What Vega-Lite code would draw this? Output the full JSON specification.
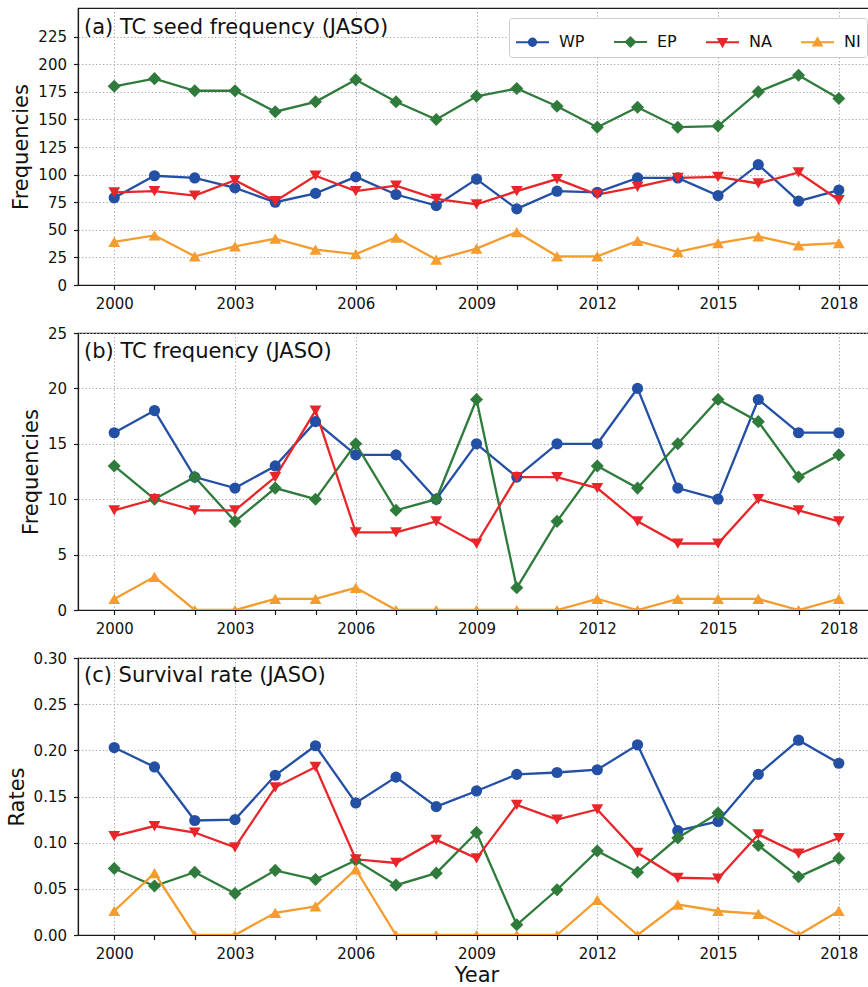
{
  "$schema": "https://vega.github.io/schema/vega-lite/v6.json",
  "padding": {"left": 5, "top": 7, "right": 0, "bottom": 0},
  "background": "white",
  "config": {
    "font": "DejaVu Sans",
    "view": {"stroke": "#1a1a1a", "strokeWidth": 1.2},
    "axis": {
      "domainColor": "#1a1a1a", "domainWidth": 1.2,
      "tickColor": "#1a1a1a", "tickWidth": 1.2, "tickSize": 4.5,
      "labelFont": "DejaVu Sans", "labelFontSize": 15, "labelColor": "#111", "labelPadding": 7,
      "titleFont": "DejaVu Sans", "titleFontSize": 21, "titleFontWeight": "normal", "titleColor": "#111", "titlePadding": 6,
      "gridColor": "#a8a8a8", "gridDash": [1.3, 2.2], "gridWidth": 1
    },
    "title": {"font": "DejaVu Sans", "fontSize": 21, "fontWeight": "normal", "color": "#111", "anchor": "start", "frame": "group", "baseline": "alphabetic", "dx": 6}
  },
  "datasets": {
    "seed": [
      {"year":2000,"basin":"WP","value":79},{"year":2001,"basin":"WP","value":99},{"year":2002,"basin":"WP","value":97},{"year":2003,"basin":"WP","value":88},{"year":2004,"basin":"WP","value":75},{"year":2005,"basin":"WP","value":83},{"year":2006,"basin":"WP","value":98},{"year":2007,"basin":"WP","value":82},{"year":2008,"basin":"WP","value":72},{"year":2009,"basin":"WP","value":96},{"year":2010,"basin":"WP","value":69},{"year":2011,"basin":"WP","value":85},{"year":2012,"basin":"WP","value":84},{"year":2013,"basin":"WP","value":97},{"year":2014,"basin":"WP","value":97},{"year":2015,"basin":"WP","value":81},{"year":2016,"basin":"WP","value":109},{"year":2017,"basin":"WP","value":76},{"year":2018,"basin":"WP","value":86},
      {"year":2000,"basin":"EP","value":180},{"year":2001,"basin":"EP","value":187},{"year":2002,"basin":"EP","value":176},{"year":2003,"basin":"EP","value":176},{"year":2004,"basin":"EP","value":157},{"year":2005,"basin":"EP","value":166},{"year":2006,"basin":"EP","value":186},{"year":2007,"basin":"EP","value":166},{"year":2008,"basin":"EP","value":150},{"year":2009,"basin":"EP","value":171},{"year":2010,"basin":"EP","value":178},{"year":2011,"basin":"EP","value":162},{"year":2012,"basin":"EP","value":143},{"year":2013,"basin":"EP","value":161},{"year":2014,"basin":"EP","value":143},{"year":2015,"basin":"EP","value":144},{"year":2016,"basin":"EP","value":175},{"year":2017,"basin":"EP","value":190},{"year":2018,"basin":"EP","value":169},
      {"year":2000,"basin":"NA","value":84},{"year":2001,"basin":"NA","value":85},{"year":2002,"basin":"NA","value":81},{"year":2003,"basin":"NA","value":95},{"year":2004,"basin":"NA","value":76},{"year":2005,"basin":"NA","value":99},{"year":2006,"basin":"NA","value":85},{"year":2007,"basin":"NA","value":90},{"year":2008,"basin":"NA","value":78},{"year":2009,"basin":"NA","value":73},{"year":2010,"basin":"NA","value":85},{"year":2011,"basin":"NA","value":96},{"year":2012,"basin":"NA","value":82},{"year":2013,"basin":"NA","value":89},{"year":2014,"basin":"NA","value":97},{"year":2015,"basin":"NA","value":98},{"year":2016,"basin":"NA","value":92},{"year":2017,"basin":"NA","value":102},{"year":2018,"basin":"NA","value":77},
      {"year":2000,"basin":"NI","value":39},{"year":2001,"basin":"NI","value":45},{"year":2002,"basin":"NI","value":26},{"year":2003,"basin":"NI","value":35},{"year":2004,"basin":"NI","value":42},{"year":2005,"basin":"NI","value":32},{"year":2006,"basin":"NI","value":28},{"year":2007,"basin":"NI","value":43},{"year":2008,"basin":"NI","value":23},{"year":2009,"basin":"NI","value":33},{"year":2010,"basin":"NI","value":48},{"year":2011,"basin":"NI","value":26},{"year":2012,"basin":"NI","value":26},{"year":2013,"basin":"NI","value":40},{"year":2014,"basin":"NI","value":30},{"year":2015,"basin":"NI","value":38},{"year":2016,"basin":"NI","value":44},{"year":2017,"basin":"NI","value":36},{"year":2018,"basin":"NI","value":38}
    ],
    "tc": [
      {"year":2000,"basin":"WP","value":16},{"year":2001,"basin":"WP","value":18},{"year":2002,"basin":"WP","value":12},{"year":2003,"basin":"WP","value":11},{"year":2004,"basin":"WP","value":13},{"year":2005,"basin":"WP","value":17},{"year":2006,"basin":"WP","value":14},{"year":2007,"basin":"WP","value":14},{"year":2008,"basin":"WP","value":10},{"year":2009,"basin":"WP","value":15},{"year":2010,"basin":"WP","value":12},{"year":2011,"basin":"WP","value":15},{"year":2012,"basin":"WP","value":15},{"year":2013,"basin":"WP","value":20},{"year":2014,"basin":"WP","value":11},{"year":2015,"basin":"WP","value":10},{"year":2016,"basin":"WP","value":19},{"year":2017,"basin":"WP","value":16},{"year":2018,"basin":"WP","value":16},
      {"year":2000,"basin":"EP","value":13},{"year":2001,"basin":"EP","value":10},{"year":2002,"basin":"EP","value":12},{"year":2003,"basin":"EP","value":8},{"year":2004,"basin":"EP","value":11},{"year":2005,"basin":"EP","value":10},{"year":2006,"basin":"EP","value":15},{"year":2007,"basin":"EP","value":9},{"year":2008,"basin":"EP","value":10},{"year":2009,"basin":"EP","value":19},{"year":2010,"basin":"EP","value":2},{"year":2011,"basin":"EP","value":8},{"year":2012,"basin":"EP","value":13},{"year":2013,"basin":"EP","value":11},{"year":2014,"basin":"EP","value":15},{"year":2015,"basin":"EP","value":19},{"year":2016,"basin":"EP","value":17},{"year":2017,"basin":"EP","value":12},{"year":2018,"basin":"EP","value":14},
      {"year":2000,"basin":"NA","value":9},{"year":2001,"basin":"NA","value":10},{"year":2002,"basin":"NA","value":9},{"year":2003,"basin":"NA","value":9},{"year":2004,"basin":"NA","value":12},{"year":2005,"basin":"NA","value":18},{"year":2006,"basin":"NA","value":7},{"year":2007,"basin":"NA","value":7},{"year":2008,"basin":"NA","value":8},{"year":2009,"basin":"NA","value":6},{"year":2010,"basin":"NA","value":12},{"year":2011,"basin":"NA","value":12},{"year":2012,"basin":"NA","value":11},{"year":2013,"basin":"NA","value":8},{"year":2014,"basin":"NA","value":6},{"year":2015,"basin":"NA","value":6},{"year":2016,"basin":"NA","value":10},{"year":2017,"basin":"NA","value":9},{"year":2018,"basin":"NA","value":8},
      {"year":2000,"basin":"NI","value":1},{"year":2001,"basin":"NI","value":3},{"year":2002,"basin":"NI","value":0},{"year":2003,"basin":"NI","value":0},{"year":2004,"basin":"NI","value":1},{"year":2005,"basin":"NI","value":1},{"year":2006,"basin":"NI","value":2},{"year":2007,"basin":"NI","value":0},{"year":2008,"basin":"NI","value":0},{"year":2009,"basin":"NI","value":0},{"year":2010,"basin":"NI","value":0},{"year":2011,"basin":"NI","value":0},{"year":2012,"basin":"NI","value":1},{"year":2013,"basin":"NI","value":0},{"year":2014,"basin":"NI","value":1},{"year":2015,"basin":"NI","value":1},{"year":2016,"basin":"NI","value":1},{"year":2017,"basin":"NI","value":0},{"year":2018,"basin":"NI","value":1}
    ],
    "rate": [
      {"year":2000,"basin":"WP","value":0.203},{"year":2001,"basin":"WP","value":0.182},{"year":2002,"basin":"WP","value":0.124},{"year":2003,"basin":"WP","value":0.125},{"year":2004,"basin":"WP","value":0.173},{"year":2005,"basin":"WP","value":0.205},{"year":2006,"basin":"WP","value":0.143},{"year":2007,"basin":"WP","value":0.171},{"year":2008,"basin":"WP","value":0.139},{"year":2009,"basin":"WP","value":0.156},{"year":2010,"basin":"WP","value":0.174},{"year":2011,"basin":"WP","value":0.176},{"year":2012,"basin":"WP","value":0.179},{"year":2013,"basin":"WP","value":0.206},{"year":2014,"basin":"WP","value":0.113},{"year":2015,"basin":"WP","value":0.123},{"year":2016,"basin":"WP","value":0.174},{"year":2017,"basin":"WP","value":0.211},{"year":2018,"basin":"WP","value":0.186},
      {"year":2000,"basin":"EP","value":0.072},{"year":2001,"basin":"EP","value":0.053},{"year":2002,"basin":"EP","value":0.068},{"year":2003,"basin":"EP","value":0.045},{"year":2004,"basin":"EP","value":0.070},{"year":2005,"basin":"EP","value":0.060},{"year":2006,"basin":"EP","value":0.081},{"year":2007,"basin":"EP","value":0.054},{"year":2008,"basin":"EP","value":0.067},{"year":2009,"basin":"EP","value":0.111},{"year":2010,"basin":"EP","value":0.011},{"year":2011,"basin":"EP","value":0.049},{"year":2012,"basin":"EP","value":0.091},{"year":2013,"basin":"EP","value":0.068},{"year":2014,"basin":"EP","value":0.105},{"year":2015,"basin":"EP","value":0.132},{"year":2016,"basin":"EP","value":0.097},{"year":2017,"basin":"EP","value":0.063},{"year":2018,"basin":"EP","value":0.083},
      {"year":2000,"basin":"NA","value":0.107},{"year":2001,"basin":"NA","value":0.118},{"year":2002,"basin":"NA","value":0.111},{"year":2003,"basin":"NA","value":0.095},{"year":2004,"basin":"NA","value":0.160},{"year":2005,"basin":"NA","value":0.182},{"year":2006,"basin":"NA","value":0.082},{"year":2007,"basin":"NA","value":0.078},{"year":2008,"basin":"NA","value":0.103},{"year":2009,"basin":"NA","value":0.083},{"year":2010,"basin":"NA","value":0.141},{"year":2011,"basin":"NA","value":0.125},{"year":2012,"basin":"NA","value":0.136},{"year":2013,"basin":"NA","value":0.089},{"year":2014,"basin":"NA","value":0.062},{"year":2015,"basin":"NA","value":0.061},{"year":2016,"basin":"NA","value":0.109},{"year":2017,"basin":"NA","value":0.088},{"year":2018,"basin":"NA","value":0.105},
      {"year":2000,"basin":"NI","value":0.026},{"year":2001,"basin":"NI","value":0.067},{"year":2002,"basin":"NI","value":0},{"year":2003,"basin":"NI","value":0},{"year":2004,"basin":"NI","value":0.024},{"year":2005,"basin":"NI","value":0.031},{"year":2006,"basin":"NI","value":0.071},{"year":2007,"basin":"NI","value":0},{"year":2008,"basin":"NI","value":0},{"year":2009,"basin":"NI","value":0},{"year":2010,"basin":"NI","value":0},{"year":2011,"basin":"NI","value":0},{"year":2012,"basin":"NI","value":0.038},{"year":2013,"basin":"NI","value":0},{"year":2014,"basin":"NI","value":0.033},{"year":2015,"basin":"NI","value":0.026},{"year":2016,"basin":"NI","value":0.023},{"year":2017,"basin":"NI","value":0},{"year":2018,"basin":"NI","value":0.026}
    ]
  },
  "spacing": 12,
  "resolve": {"scale": {"color": "independent"}},
  "vconcat": [
    {
      "width": 791, "height": 277,
      "title": {"text": "(a) TC seed frequency (JASO)", "offset": -29.5},
      "data": {"name": "seed"},
      "encoding": {
        "x": {"field": "year", "type": "quantitative", "scale": {"domain": [1999.1, 2018.75], "nice": false, "zero": false},
              "axis": {"values": [2000,2001,2002,2003,2004,2005,2006,2007,2008,2009,2010,2011,2012,2013,2014,2015,2016,2017,2018], "format": "d", "labelExpr": "(datum.value - 2000) % 3 === 0 ? datum.label : ''", "labelOverlap": false, "labelFlush": false, "title": null,
                       "gridOpacity": {"condition": {"test": "(datum.value - 2000) % 3 !== 0", "value": 0}, "value": 1}}},
        "y": {"field": "value", "type": "quantitative", "scale": {"domain": [0, 251], "nice": false},
              "axis": {"values": [0,25,50,75,100,125,150,175,200,225], "title": "Frequencies"}},
        "color": {"field": "basin", "type": "nominal", "scale": {"domain": ["WP","EP","NA","NI"], "range": ["#2350a5","#2e7b3c","#e8262a","#f49c2e"]},
                  "legend": {"title": null, "orient": "none", "legendX": 431, "legendY": 10, "direction": "horizontal", "columns": 4,
                             "labelFont": "DejaVu Sans", "labelFontSize": 16, "labelColor": "#111", "labelOffset": 9, "columnPadding": 25,
                             "symbolSize": 1089, "symbolStrokeWidth": 2,
                             "padding": 6, "fillColor": "white", "strokeColor": "#cccccc", "cornerRadius": 3,
                             "encode": {"symbols": {"update": {
                               "shape": {"signal": "datum.value === 'WP' ? 'M-1,0L1,0M-0.22,0A0.22,0.22,0,1,0,0.22,0A0.22,0.22,0,1,0,-0.22,0Z' : datum.value === 'EP' ? 'M-1,0L1,0M-0.28,0L0,-0.28L0.28,0L0,0.28Z' : datum.value === 'NA' ? 'M-1,0L1,0M-0.25,-0.2L0.25,-0.2L0,0.24Z' : 'M-1,0L1,0M-0.25,0.2L0.25,0.2L0,-0.24Z'"},
                               "fill": {"signal": "datum.value === 'WP' ? '#2350a5' : datum.value === 'EP' ? '#2e7b3c' : datum.value === 'NA' ? '#e8262a' : '#f49c2e'"},
                               "stroke": {"signal": "datum.value === 'WP' ? '#2350a5' : datum.value === 'EP' ? '#2e7b3c' : datum.value === 'NA' ? '#e8262a' : '#f49c2e'"},
                               "size": {"value": 1089},
                               "strokeWidth": {"value": 2}, "opacity": {"value": 1}, "fillOpacity": {"value": 1}, "strokeOpacity": {"value": 1}}}}}}
      },
      "layer": [
        {"mark": {"type": "line", "strokeWidth": 2.3, "clip": true}},
        {"transform": [{"filter": "datum.basin === 'WP'"}], "mark": {"type": "point", "shape": "circle", "size": 125, "filled": true, "opacity": 1, "clip": true}},
        {"transform": [{"filter": "datum.basin === 'EP'"}], "mark": {"type": "point", "shape": "diamond", "size": 170, "filled": true, "opacity": 1, "clip": true}},
        {"transform": [{"filter": "datum.basin === 'NA'"}], "mark": {"type": "point", "shape": "triangle-down", "size": 140, "filled": true, "opacity": 1, "clip": true}},
        {"transform": [{"filter": "datum.basin === 'NI'"}], "mark": {"type": "point", "shape": "triangle-up", "size": 140, "filled": true, "opacity": 1, "clip": true}}
      ]
    },
    {
      "width": 791, "height": 277,
      "title": {"text": "(b) TC frequency (JASO)", "offset": -35.5},
      "data": {"name": "tc"},
      "encoding": {
        "x": {"field": "year", "type": "quantitative", "scale": {"domain": [1999.1, 2018.75], "nice": false, "zero": false},
              "axis": {"values": [2000,2001,2002,2003,2004,2005,2006,2007,2008,2009,2010,2011,2012,2013,2014,2015,2016,2017,2018], "format": "d", "labelExpr": "(datum.value - 2000) % 3 === 0 ? datum.label : ''", "labelOverlap": false, "labelFlush": false, "title": null,
                       "gridOpacity": {"condition": {"test": "(datum.value - 2000) % 3 !== 0", "value": 0}, "value": 1}}},
        "y": {"field": "value", "type": "quantitative", "scale": {"domain": [0, 25], "nice": false},
              "axis": {"values": [0,5,10,15,20,25], "title": "Frequencies"}},
        "color": {"field": "basin", "type": "nominal", "scale": {"domain": ["WP","EP","NA","NI"], "range": ["#2350a5","#2e7b3c","#e8262a","#f49c2e"]}, "legend": null}
      },
      "layer": [
        {"mark": {"type": "line", "strokeWidth": 2.3, "clip": true}},
        {"transform": [{"filter": "datum.basin === 'WP'"}], "mark": {"type": "point", "shape": "circle", "size": 125, "filled": true, "opacity": 1, "clip": true}},
        {"transform": [{"filter": "datum.basin === 'EP'"}], "mark": {"type": "point", "shape": "diamond", "size": 170, "filled": true, "opacity": 1, "clip": true}},
        {"transform": [{"filter": "datum.basin === 'NA'"}], "mark": {"type": "point", "shape": "triangle-down", "size": 140, "filled": true, "opacity": 1, "clip": true}},
        {"transform": [{"filter": "datum.basin === 'NI'"}], "mark": {"type": "point", "shape": "triangle-up", "size": 140, "filled": true, "opacity": 1, "clip": true}}
      ]
    },
    {
      "width": 791, "height": 277,
      "title": {"text": "(c) Survival rate (JASO)", "offset": -34.7},
      "data": {"name": "rate"},
      "encoding": {
        "x": {"field": "year", "type": "quantitative", "scale": {"domain": [1999.1, 2018.75], "nice": false, "zero": false},
              "axis": {"values": [2000,2001,2002,2003,2004,2005,2006,2007,2008,2009,2010,2011,2012,2013,2014,2015,2016,2017,2018], "format": "d", "labelExpr": "(datum.value - 2000) % 3 === 0 ? datum.label : ''", "labelOverlap": false, "labelFlush": false, "title": "Year", "titleX": 398.5, "titlePadding": 3,
                       "gridOpacity": {"condition": {"test": "(datum.value - 2000) % 3 !== 0", "value": 0}, "value": 1}}},
        "y": {"field": "value", "type": "quantitative", "scale": {"domain": [0, 0.3], "nice": false},
              "axis": {"values": [0,0.05,0.1,0.15,0.2,0.25,0.3], "format": ".2f", "title": "Rates"}},
        "color": {"field": "basin", "type": "nominal", "scale": {"domain": ["WP","EP","NA","NI"], "range": ["#2350a5","#2e7b3c","#e8262a","#f49c2e"]}, "legend": null}
      },
      "layer": [
        {"mark": {"type": "line", "strokeWidth": 2.3, "clip": true}},
        {"transform": [{"filter": "datum.basin === 'WP'"}], "mark": {"type": "point", "shape": "circle", "size": 125, "filled": true, "opacity": 1, "clip": true}},
        {"transform": [{"filter": "datum.basin === 'EP'"}], "mark": {"type": "point", "shape": "diamond", "size": 170, "filled": true, "opacity": 1, "clip": true}},
        {"transform": [{"filter": "datum.basin === 'NA'"}], "mark": {"type": "point", "shape": "triangle-down", "size": 140, "filled": true, "opacity": 1, "clip": true}},
        {"transform": [{"filter": "datum.basin === 'NI'"}], "mark": {"type": "point", "shape": "triangle-up", "size": 140, "filled": true, "opacity": 1, "clip": true}}
      ]
    }
  ]
}
